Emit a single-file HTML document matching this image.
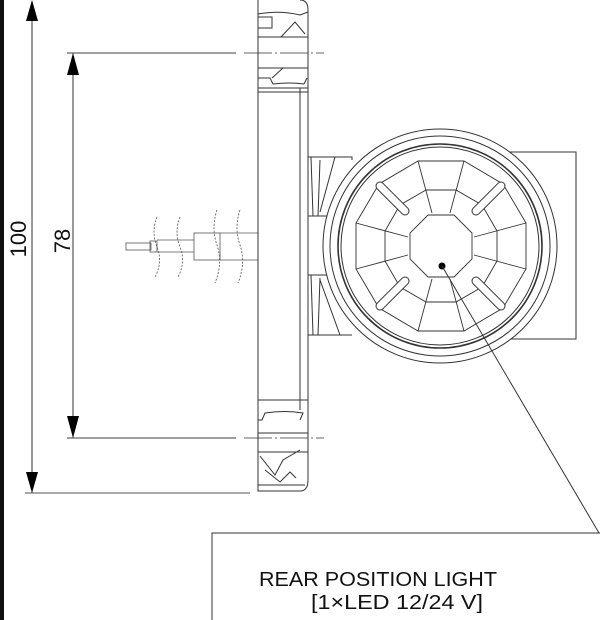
<!DOCTYPE html>
<html><head><meta charset="utf-8"><style>
html,body{margin:0;padding:0;background:#fff;}
svg{display:block;}
</style></head><body>
<svg width="600" height="620" viewBox="0 0 600 620" xmlns="http://www.w3.org/2000/svg" fill="none" stroke="#333" stroke-width="1">
<rect x="0" y="0" width="4" height="620" fill="#111" stroke="none"/>
<!-- dimension 100 -->
<line x1="32" y1="2" x2="32" y2="493"/>
<polygon points="32,0 26,21 38,21" fill="#000" stroke="none"/>
<polygon points="32,493 26,472 38,472" fill="#000" stroke="none"/>
<line x1="25" y1="493" x2="250" y2="493" stroke="#555"/>
<!-- dimension 78 -->
<line x1="73" y1="53" x2="73" y2="438"/>
<polygon points="73,53 67,75 79,75" fill="#000" stroke="none"/>
<polygon points="73,438 67,416 79,416" fill="#000" stroke="none"/>
<line x1="67" y1="53" x2="236" y2="53" stroke="#666" stroke-width="1.2"/>
<line x1="67" y1="438" x2="236" y2="438" stroke="#666" stroke-width="1.2"/>
<line x1="244" y1="53" x2="324" y2="53" stroke="#666" stroke-dasharray="28,3,2,3"/>
<line x1="244" y1="438" x2="324" y2="438" stroke="#666" stroke-dasharray="28,3,2,3"/>
<text x="0" y="0" transform="translate(26,239) rotate(-90)" font-family="Liberation Sans, sans-serif" font-size="22" fill="#111" stroke="none" text-anchor="middle">100</text>
<text x="0" y="0" transform="translate(70,241) rotate(-90)" font-family="Liberation Sans, sans-serif" font-size="22" fill="#111" stroke="none" text-anchor="middle">78</text>
<!-- pigtail -->
<g stroke="#555" stroke-width="0.8">
<rect x="126" y="243" width="25" height="7"/>
<rect x="150" y="241" width="7" height="11"/>
<line x1="157" y1="240" x2="194" y2="240"/><line x1="157" y1="252" x2="194" y2="252"/>
<rect x="194" y="233" width="26" height="27"/>
<line x1="220" y1="233" x2="258" y2="233"/><line x1="220" y1="260" x2="258" y2="260"/>
<g stroke-dasharray="2,1.5">
<path d="M157,217 q-6,15 0,30 q6,15 -2,30"/>
<path d="M180,217 q-6,15 0,30 q6,15 -2,30"/>
<path d="M217,210 q-6,18 0,35 q6,18 -2,38"/>
<path d="M240,210 q-6,18 0,35 q6,18 -2,38"/>
</g></g>
<!-- plate -->
<path d="M258,0 L258,491 L300,491 Q308,491 308,480 L308,10 Q308,0 300,0" />
<line x1="300" y1="88" x2="300" y2="410"/>
<path d="M258,14 Q280,10 300,15 L308,12"/>
<polyline points="258,17 272,17 272,28 258,28"/>
<path d="M281,37 L295,22 L305,34"/>
<line x1="258" y1="37" x2="308" y2="37"/>
<line x1="258" y1="68" x2="308" y2="68"/>
<path d="M272,78 L283,68"/>
<path d="M258,78 L270,78 L273,84 Q290,82 304,84 L307,78"/>
<line x1="258" y1="88" x2="308" y2="88"/>
<line x1="258" y1="92" x2="308" y2="92"/>
<line x1="258" y1="400" x2="308" y2="400"/>
<path d="M258,420 L262,420 L265,413 Q285,410 303,413 L300,420"/>
<line x1="258" y1="433" x2="308" y2="433"/>
<line x1="258" y1="452" x2="308" y2="452"/>
<path d="M260,456 L275,475 L283,460 L300,450"/>
<path d="M265,470 L280,482 L290,472 L296,478"/>
<line x1="258" y1="485" x2="305" y2="485"/>
<!-- brackets -->
<path d="M308,157 L352,157 L352,160 M308,216 L352,216"/>
<path d="M311,157 L313,216 M320,160 L318,216 M335,157 L320,212"/>
<path d="M308,275 L352,275 M308,335 L352,335"/>
<path d="M311,275 L313,335 M320,278 L318,335 M320,280 L340,335"/>
<!-- right box -->
<rect x="460" y="152" width="116" height="187"/>
<!-- circle -->
<circle cx="440" cy="246" r="117" fill="#fff"/>
<circle cx="440" cy="246" r="110"/>
<circle cx="440" cy="246" r="102" stroke-width="1.6"/>
<circle cx="440" cy="246" r="99"/>
<g stroke="#333" stroke-width="0.9">
<polygon points="526,223 503,184 464,161 418,161 379,184 356,223 356,269 379,308 418,331 464,331 503,308 526,269"/>
<polygon points="497,231 482,205 456,190 426,190 400,205 385,231 385,261 400,287 426,302 456,302 482,287 497,261"/>
<line x1="474" y1="237" x2="526" y2="223"/><line x1="450" y1="213" x2="464" y2="161"/>
<line x1="432" y1="213" x2="418" y2="161"/><line x1="408" y1="237" x2="356" y2="223"/>
<line x1="408" y1="255" x2="356" y2="269"/><line x1="432" y1="279" x2="418" y2="331"/>
<line x1="450" y1="279" x2="464" y2="331"/><line x1="474" y1="255" x2="526" y2="269"/>
<polygon points="472,233 454,215 428,215 410,233 410,259 428,277 454,277 472,259" fill="#fff"/>
<g stroke-linecap="round">
<line x1="476" y1="211" x2="501" y2="186" stroke-width="9" stroke="#333"/>
<line x1="476" y1="211" x2="501" y2="186" stroke-width="7" stroke="#fff"/>
<line x1="405" y1="211" x2="380" y2="186" stroke-width="9" stroke="#333"/>
<line x1="405" y1="211" x2="380" y2="186" stroke-width="7" stroke="#fff"/>
<line x1="405" y1="281" x2="380" y2="306" stroke-width="9" stroke="#333"/>
<line x1="405" y1="281" x2="380" y2="306" stroke-width="7" stroke="#fff"/>
<line x1="476" y1="281" x2="501" y2="306" stroke-width="9" stroke="#333"/>
<line x1="476" y1="281" x2="501" y2="306" stroke-width="7" stroke="#fff"/>
</g></g>
<circle cx="442" cy="266" r="3.5" fill="#000" stroke="none"/>
<line x1="442" y1="266" x2="599" y2="533" stroke="#333"/>
<!-- label box -->
<path d="M212,620 L212,533 L600,533" stroke="#333"/>
<text x="259" y="586" font-family="Liberation Sans, sans-serif" font-size="20" fill="#111" stroke="none" textLength="238" lengthAdjust="spacingAndGlyphs">REAR POSITION LIGHT</text>
<text x="311" y="609" font-family="Liberation Sans, sans-serif" font-size="20" fill="#111" stroke="none" textLength="172" lengthAdjust="spacingAndGlyphs">[1×LED 12/24 V]</text>
</svg>
</body></html>
